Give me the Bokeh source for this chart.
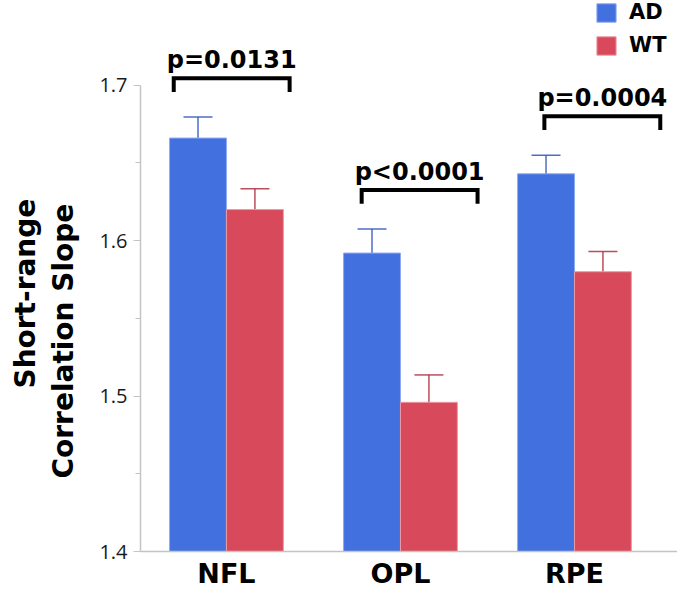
from bokeh.plotting import figure
from bokeh.models import (FixedTicker, Legend, LegendItem, Whisker, ColumnDataSource,
                          TeeHead, Range1d, Title)
from bokeh.embed import file_html
from bokeh.resources import INLINE
from bokeh.core.properties import value

# ---- data ----
categories = ["NFL", "OPL", "RPE"]
groups = ["AD", "WT"]
ad_mean = [1.666, 1.592, 1.643]
ad_err = [0.0135, 0.0155, 0.012]
wt_mean = [1.620, 1.496, 1.580]
wt_err = [0.0134, 0.0176, 0.013]
p_labels = ["p=0.0131", "p<0.0001", "p=0.0004"]
y_ticks = [1.4, 1.5, 1.6, 1.7]
y_minor = [1.45, 1.55, 1.65]
y_title_lines = ["Correlation Slope", "Short-range"]   # inner line first

# ---- layout / style ----
FONT = "Open Sans"
BOLD = "DejaVu Sans"
BLUE = "#4271DF"
RED = "#D84A5B"
BAR_W = 0.327
DODGE = BAR_W / 2
bracket_shift = [0.03, 0.11, 0.16]   # manual placement of significance brackets

xc = [i + 1 for i in range(len(categories))]

p = figure(width=677, height=591, output_backend="svg", toolbar_location=None,
           x_range=Range1d(0.506, 3.592), y_range=Range1d(1.4, 1.7545),
           min_border_left=140, min_border_right=0, min_border_top=0, min_border_bottom=38)
p.outline_line_color = None
p.xgrid.visible = False
p.ygrid.visible = False
p.background_fill_color = "white"
p.border_fill_color = "white"

src_ad = ColumnDataSource(dict(x=[x - DODGE for x in xc], top=ad_mean,
                               lo=[m - e for m, e in zip(ad_mean, ad_err)],
                               hi=[m + e for m, e in zip(ad_mean, ad_err)]))
src_wt = ColumnDataSource(dict(x=[x + DODGE for x in xc], top=wt_mean,
                               lo=[m - e for m, e in zip(wt_mean, wt_err)],
                               hi=[m + e for m, e in zip(wt_mean, wt_err)]))

r_ad = p.vbar(x="x", top="top", bottom=1.4, width=BAR_W, source=src_ad,
              fill_color=BLUE, line_color="#8fa9f0", line_width=1)
r_wt = p.vbar(x="x", top="top", bottom=1.4, width=BAR_W, source=src_wt,
              fill_color=RED, line_color="#eb9aa4", line_width=1)

for src, col in ((src_ad, "#2f55b8"), (src_wt, "#b02e40")):
    w = Whisker(source=src, base="x", lower="lo", upper="hi",
                line_color=col, line_width=1.5, line_alpha=0.85,
                upper_head=TeeHead(size=29, line_color=col, line_width=1.5, line_alpha=0.85),
                lower_head=TeeHead(size=29, line_color=col, line_width=1.5, line_alpha=0.85))
    p.add_layout(w)

# significance brackets
bx, by, tx, ty = [], [], [], []
for i, x in enumerate(xc):
    top = max(ad_mean[i] + ad_err[i], wt_mean[i] + wt_err[i]) + 0.025
    c = x + bracket_shift[i]
    bx.append([c - 0.333, c - 0.333, c + 0.333, c + 0.333])
    by.append([top - 0.0088, top, top, top - 0.0088])
    tx.append(c)
    ty.append(top + 0.0118)
p.multi_line(xs=bx, ys=by, line_color="black", line_width=4, line_join="miter")
p.text(x=tx, y=ty, text=p_labels, text_font=value(BOLD), text_font_style="bold",
       text_font_size="24px", text_align="center", text_baseline="alphabetic", text_color="black")

# axes
ya = p.yaxis[0]
ya.ticker = FixedTicker(ticks=y_ticks, minor_ticks=y_minor)
ya.bounds = (1.4, 1.7)
ya.axis_line_color = "#c4c4c4"
ya.axis_line_width = 1.5
ya.major_tick_line_color = "#c4c4c4"
ya.minor_tick_line_color = "#c4c4c4"
ya.major_tick_in = 0
ya.major_tick_out = 7
ya.minor_tick_in = 0
ya.minor_tick_out = 5
ya.major_label_text_font = FONT
ya.major_label_text_font_size = "20px"
ya.major_label_text_color = "#1a1a1a"
ya.major_label_standoff = 6

# y-axis title as two stacked left-side titles
for line, off, so in zip(y_title_lines, [73, 163], [34, -29]):
    p.add_layout(Title(text=line, align="left", offset=off, standoff=so,
                       text_font=BOLD, text_font_style="bold", text_font_size="28px",
                       text_color="black"), "left")

xa = p.xaxis[0]
xa.ticker = FixedTicker(ticks=xc)
xa.major_label_overrides = {x: c for x, c in zip(xc, categories)}
xa.axis_line_color = "#c4c4c4"
xa.axis_line_width = 1.5
xa.major_tick_line_color = None
xa.minor_tick_line_color = None
xa.major_tick_in = 0
xa.major_tick_out = 0
xa.major_label_text_font = BOLD
xa.major_label_text_font_style = "bold"
xa.major_label_text_font_size = "27px"
xa.major_label_text_color = "black"
xa.major_label_standoff = 6

legend = Legend(items=[LegendItem(label=groups[0], renderers=[r_ad]),
                       LegendItem(label=groups[1], renderers=[r_wt])],
                location=(454, 494), orientation="vertical",
                label_text_font=BOLD, label_text_font_style="bold",
                label_text_font_size="21px", label_text_color="black",
                glyph_width=24, glyph_height=23, label_standoff=11, spacing=9,
                padding=2, margin=0, border_line_color=None, background_fill_alpha=0)
p.add_layout(legend)

open("out.html", "w").write(file_html(p, INLINE))
